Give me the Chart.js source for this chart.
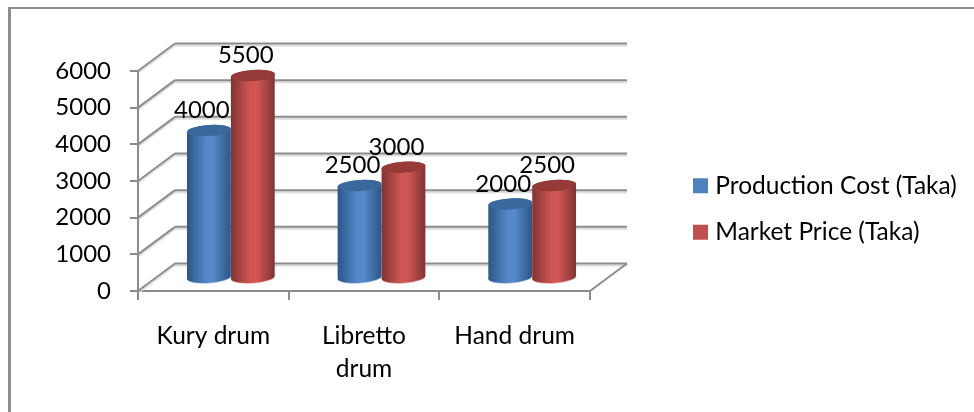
<!DOCTYPE html>
<html>
<head>
<meta charset="utf-8">
<title>Drum cost and price</title>
<style>
  html, body { margin: 0; padding: 0; background: #fff; }
  #frame { position: absolute; left: 8px; top: 7px; width: 966px; height: 405px; border-left: 3px solid #8e8e8e; border-top: 2px solid #8e8e8e; box-sizing: border-box; }
  #mychart { position: absolute; left: 0; top: 0; }
</style>
<script src="https://cdn.jsdelivr.net/npm/chart.js@4/dist/chart.umd.min.js"></script>
</head>
<body>
<div id="frame"></div>
<canvas id="mychart" width="974" height="412"></canvas>
<script>
const categories = ['Kury drum', ['Libretto', 'drum'], 'Hand drum'];
const productionCost = [4000, 2500, 2000];
const marketPrice = [5500, 3000, 2500];
const yTicks = [0, 1000, 2000, 3000, 4000, 5000, 6000];

const fontName = 'Lato, "Open Sans", sans-serif';
const gridColor = '#8c8c8c';
const gridShadow = '#dcdcdc';

// depth of the fake 3D box
const depthX = 37;
const depthY = -27.5;

const barColors = [
  { edge: '#2c5684', mid: '#5589c9', top: '#3b689b', rim: '#a9c6ea' },
  { edge: '#7f3432', mid: '#d05654', top: '#953a38', rim: '#eba9a7' },
];

function line(ctx, x1, y1, x2, y2, color, width) {
  ctx.strokeStyle = color;
  ctx.lineWidth = width;
  ctx.beginPath();
  ctx.moveTo(x1, y1);
  ctx.lineTo(x2, y2);
  ctx.stroke();
}

// back wall, side wall and floor lines
function drawWalls(chart) {
  const ctx = chart.ctx;
  const { left, right } = chart.chartArea;
  const yScale = chart.scales.y;
  yScale.ticks.forEach((tick) => {
    const y = yScale.getPixelForValue(tick.value);
    line(ctx, left + depthX, y + depthY + 2, right + depthX, y + depthY + 2, gridShadow, 2);
    line(ctx, left + 1, y + 1.5, left + depthX + 1, y + depthY + 1.5, gridShadow, 1.5);
    line(ctx, left + depthX, y + depthY, right + depthX, y + depthY, gridColor, 2);
    line(ctx, left, y, left + depthX, y + depthY, gridColor, 2);
  });
  const floorY = yScale.getPixelForValue(0);
  line(ctx, right, floorY, right + depthX, floorY + depthY, gridColor, 2);
}

// one cylinder, sitting in the middle of the depth
function drawCylinder(ctx, bar, colors) {
  const cx = bar.x + depthX / 2 - 1;
  const topY = bar.y + depthY / 2;
  const baseY = bar.base + depthY / 2 + 1;
  const rx = bar.width / 2;
  const ry = 5.5;
  const tilt = -0.07;

  const shade = ctx.createLinearGradient(cx - rx, 0, cx + rx, 0);
  shade.addColorStop(0, colors.edge);
  shade.addColorStop(0.45, colors.mid);
  shade.addColorStop(0.6, colors.mid);
  shade.addColorStop(1, colors.edge);

  ctx.fillStyle = colors.rim;
  ctx.beginPath();
  ctx.ellipse(cx, baseY + 0.8, rx, ry, tilt, 0, Math.PI * 2);
  ctx.fill();

  ctx.fillStyle = shade;
  ctx.beginPath();
  ctx.ellipse(cx, baseY, rx, ry, tilt, 0, Math.PI);
  ctx.ellipse(cx, topY, rx, ry, tilt, Math.PI, 0);
  ctx.closePath();
  ctx.fill();

  ctx.fillStyle = colors.top;
  ctx.beginPath();
  ctx.ellipse(cx, topY, rx, ry, tilt, 0, Math.PI * 2);
  ctx.fill();
}

const cylinderPlugin = {
  id: 'cylinders',
  afterLayout(chart) {
    // legend sits well clear of the plot
    const legend = chart.legend;
    const h = legend.bottom - legend.top;
    legend.left = 698 - chart.options.plugins.legend.labels.padding;
    legend.right = chart.width;
    legend.top = 209 - h / 2;
    legend.bottom = 209 + h / 2;
  },
  beforeDatasetsDraw(chart) {
    drawWalls(chart);
    chart.data.datasets.forEach((ds, i) => {
      chart.getDatasetMeta(i).data.forEach((bar) => drawCylinder(chart.ctx, bar, barColors[i]));
    });
  },
  beforeDatasetDraw() {
    return false;
  },
  afterDatasetsDraw(chart) {
    const ctx = chart.ctx;
    ctx.font = '24px ' + fontName;
    ctx.fillStyle = '#000';
    ctx.textAlign = 'center';
    ctx.textBaseline = 'middle';
    chart.data.datasets.forEach((ds, i) => {
      chart.getDatasetMeta(i).data.forEach((bar, j) => {
        ctx.fillText(ds.data[j], bar.x + depthX / 2 - 8, bar.y + depthY / 2 - 20);
      });
    });
  },
};

new Chart(document.getElementById('mychart'), {
  type: 'bar',
  data: {
    labels: categories,
    datasets: [
      // thick border on a small box gives the square legend marker, closer to its text
      { label: 'Production Cost (Taka)', data: productionCost, backgroundColor: '#4f81bd', borderColor: '#4f81bd', borderWidth: 10 },
      { label: 'Market Price (Taka)', data: marketPrice, backgroundColor: '#c0504d', borderColor: '#c0504d', borderWidth: 10 },
    ],
  },
  options: {
    responsive: false,
    animation: false,
    events: [],
    categoryPercentage: 0.583,
    barPercentage: 1,
    layout: { padding: { left: 20, top: 71, right: 184, bottom: 10 } },
    scales: {
      x: {
        afterFit(scale) { scale.height = 111; },
        border: { color: gridColor, width: 2 },
        grid: { drawOnChartArea: false, color: gridColor, lineWidth: 2, tickLength: 9 },
        ticks: { color: '#000', font: { family: fontName, size: 24.5, lineHeight: 1.36 }, padding: 19, maxRotation: 0 },
      },
      y: {
        min: 0,
        max: 6000,
        afterFit(scale) { scale.width = 118; },
        afterBuildTicks(scale) { scale.ticks = yTicks.map((value) => ({ value })); },
        border: { color: gridColor, width: 2 },
        grid: { drawOnChartArea: false, color: gridColor, lineWidth: 2, tickLength: 8 },
        ticks: { color: '#000', font: { family: fontName, size: 24 }, padding: 19, callback: (value) => String(value) },
      },
    },
    plugins: {
      tooltip: { enabled: false },
      legend: {
        position: 'right',
        maxWidth: 200,
        labels: { color: '#000', font: { family: fontName, size: 24.5 }, boxWidth: 5, boxHeight: 5, padding: 22 },
      },
    },
  },
  plugins: [cylinderPlugin],
});
</script>
</body>
</html>
